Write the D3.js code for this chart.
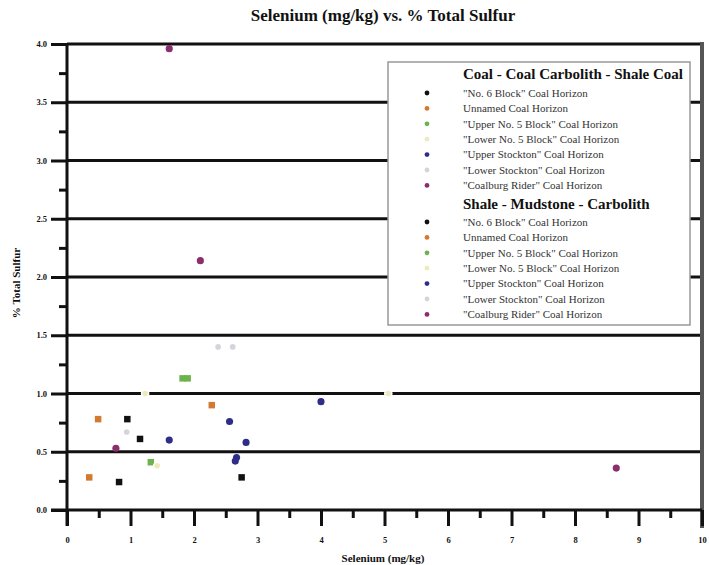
<!DOCTYPE html>
<html lang="en">
<head>
<meta charset="utf-8">
<title>Selenium vs. % Total Sulfur</title>
<script src="https://d3js.org/d3.v7.min.js"></script>
<style type="text/css">
    body { margin: 0; background: #fff; }
    svg text { font-family: "Liberation Serif", "DejaVu Serif", serif; fill: #111; }
    .tick text { font-weight: bold; font-size: 8.5px; }
    .title { font-weight: bold; font-size: 17px; }
    .axis-title { font-weight: bold; font-size: 11px; }
    .leg-head { font-weight: bold; font-size: 15px; }
    .leg-item { font-size: 11px; fill: #333; }
</style>
</head>
<body>
<script type="text/javascript">
// Data
const groups = ["Coal - Coal Carbolith - Shale Coal", "Shale - Mudstone - Carbolith"];
const horizons = [
    "\"No. 6 Block\" Coal Horizon",
    "Unnamed Coal Horizon",
    "\"Upper No. 5 Block\" Coal Horizon",
    "\"Lower No. 5 Block\" Coal Horizon",
    "\"Upper Stockton\" Coal Horizon",
    "\"Lower Stockton\" Coal Horizon",
    "\"Coalburg Rider\" Coal Horizon"
];
const horizonColors = ["#111111", "#d27a32", "#6cb44a", "#eeeac0", "#2e2e88", "#d4d4dc", "#8a2e6e"];

// one entry per sample
const selenium  = [1.82, 1.90, 2.28, 0.49, 0.95, 0.94, 1.15, 1.61, 0.77, 2.56, 2.82, 2.67, 2.65, 4.00, 1.32, 1.42, 0.35, 0.82, 2.75, 2.10, 2.38, 2.61, 1.23, 5.06, 1.61, 8.65];
const sulfur    = [1.13, 1.13, 0.90, 0.78, 0.78, 0.67, 0.61, 0.60, 0.53, 0.76, 0.58, 0.45, 0.42, 0.93, 0.41, 0.38, 0.28, 0.24, 0.28, 2.14, 1.40, 1.40, 1.00, 1.00, 3.96, 0.36];
const horizonOf = [2, 2, 1, 1, 0, 5, 0, 4, 6, 4, 4, 4, 4, 4, 2, 3, 1, 0, 0, 6, 5, 5, 3, 3, 6, 6];
const groupOf   = [1, 1, 1, 1, 1, 0, 1, 0, 0, 0, 0, 0, 0, 0, 1, 0, 1, 1, 1, 0, 0, 0, 0, 0, 0, 0];

const majorX = d3.range(0, 11, 1);
const minorX = d3.range(0.5, 10, 1);
const majorY = d3.range(0, 4.01, 0.5);
const minorY = d3.range(0.25, 4, 0.5);

// Constants
const w = 709, h = 565;
const plotL = 67, plotR = 702, plotT = 44, plotB = 510;

const svg = d3.select("body").append("svg")
    .attr("width", w)
    .attr("height", h);

// Scales
const x = d3.scaleLinear().domain([0, 10]).range([plotL, plotR]);
const y = d3.scaleLinear().domain([0, 4]).range([plotB, plotT]);

// grid lines every 0.5
svg.append("g")
    .selectAll("line")
    .data(majorY.filter(d => d > 0))
    .enter()
    .append("line")
    .attr("x1", plotL)
    .attr("x2", plotR)
    .attr("y1", d => y(d))
    .attr("y2", d => y(d))
    .attr("stroke", "#111")
    .attr("stroke-width", 3);

// right frame
svg.append("line")
    .attr("x1", plotR).attr("x2", plotR)
    .attr("y1", plotT - 2).attr("y2", plotB + 18)
    .attr("stroke", "#555")
    .attr("stroke-width", 4);

// Axes
const axisStyle = g => {
    g.select(".domain").remove();
    g.selectAll(".tick line").attr("stroke", "#111").attr("stroke-width", 3);
};

svg.append("g")
    .attr("transform", "translate(0," + plotB + ")")
    .call(d3.axisBottom(x).tickValues(minorX).tickSize(8).tickFormat(""))
    .call(axisStyle);

svg.append("g")
    .attr("transform", "translate(0," + plotB + ")")
    .call(d3.axisBottom(x).tickValues(majorX).tickSize(16).tickPadding(11).tickFormat(d3.format("d")))
    .call(axisStyle);

svg.append("g")
    .attr("transform", "translate(" + plotL + ",0)")
    .call(d3.axisLeft(y).tickValues(minorY).tickSize(8).tickFormat(""))
    .call(axisStyle);

svg.append("g")
    .attr("transform", "translate(" + plotL + ",0)")
    .call(d3.axisLeft(y).tickValues(majorY).tickSize(16).tickPadding(4).tickFormat(d3.format(".1f")))
    .call(axisStyle);

// axis lines
svg.append("line")
    .attr("x1", plotL - 16).attr("x2", plotR)
    .attr("y1", plotB).attr("y2", plotB)
    .attr("stroke", "#111").attr("stroke-width", 3);
svg.append("line")
    .attr("x1", plotL).attr("x2", plotL)
    .attr("y1", plotT).attr("y2", plotB + 16)
    .attr("stroke", "#111").attr("stroke-width", 3);

// Points
const pts = selenium.map((s, i) => ({ se: s, s: sulfur[i], hz: horizonOf[i], grp: groupOf[i] }));

svg.append("g")
    .selectAll("path")
    .data(pts)
    .enter()
    .append("path")
    .attr("d", d => d3.symbol(d.grp === 0 ? d3.symbolCircle : d3.symbolSquare, d.grp === 0 ? 40 : 42)())
    .attr("transform", d => "translate(" + x(d.se) + "," + y(d.s) + ")")
    .attr("fill", d => horizonColors[d.hz])
    .attr("stroke", d => d.hz === 3 || d.hz === 5 ? "#fff" : "none")
    .attr("stroke-width", 1.5);

// Legend
const leg = svg.append("g");
leg.append("rect")
    .attr("x", 388).attr("y", 62)
    .attr("width", 302).attr("height", 263)
    .attr("fill", "#fff")
    .attr("stroke", "#999")
    .attr("stroke-width", 1.5);

const legRows = [];
groups.forEach((g, gi) => {
    legRows.push({ head: true, text: g, y: gi === 0 ? 79 : 209 });
    horizons.forEach((hz, hi) => {
        legRows.push({ head: false, text: hz, hz: hi, y: (gi === 0 ? 93 : 222) + hi * 15.4 });
    });
});

leg.selectAll("text")
    .data(legRows)
    .enter()
    .append("text")
    .attr("class", d => d.head ? "leg-head" : "leg-item")
    .attr("x", 463)
    .attr("y", d => d.y)
    .attr("dy", d => d.head ? 0 : "0.35em")
    .text(d => d.text);

leg.selectAll("circle")
    .data(legRows.filter(d => !d.head))
    .enter()
    .append("circle")
    .attr("cx", 427)
    .attr("cy", d => d.y)
    .attr("r", 2.4)
    .attr("fill", d => horizonColors[d.hz]);

// Titles
svg.append("text")
    .attr("class", "title")
    .attr("x", 383).attr("y", 21)
    .attr("text-anchor", "middle")
    .text("Selenium (mg/kg) vs. % Total Sulfur");

svg.append("text")
    .attr("class", "axis-title")
    .attr("x", 383).attr("y", 562)
    .attr("text-anchor", "middle")
    .text("Selenium (mg/kg)");

svg.append("text")
    .attr("class", "axis-title")
    .attr("transform", "translate(20,283) rotate(-90)")
    .attr("text-anchor", "middle")
    .text("% Total Sulfur");
</script>
</body>
</html>
